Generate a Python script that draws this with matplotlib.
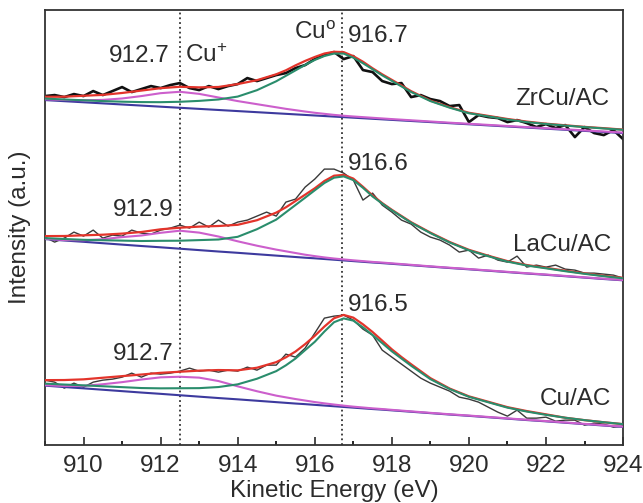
import matplotlib
matplotlib.use("Agg")
import matplotlib.pyplot as plt
from matplotlib.ticker import MultipleLocator

plt.rcParams["font.family"] = ["Liberation Sans", "DejaVu Sans"]
plt.rcParams["mathtext.default"] = "regular"

# energy grid of the fitted curves (finer around the Cu0 peak)
FIT_E = [909.0, 909.5, 910.0, 910.5, 911.0, 911.5, 912.0, 912.5, 913.0, 913.5,
         914.0, 914.5, 915.0, 915.25, 915.5, 915.75, 916.0, 916.25, 916.5, 916.75,
         917.0, 917.25, 917.5, 917.75, 918.0, 918.25, 918.5, 919.0, 919.5, 920.0,
         920.5, 921.0, 921.5, 922.0, 922.5, 923.0, 923.5, 924.0]

# energy grid of the measured spectra
DATA_E = [909.0, 909.25, 909.5, 909.75, 910.0, 910.25, 910.5, 910.75, 911.0, 911.25,
          911.5, 911.75, 912.0, 912.25, 912.5, 912.75, 913.0, 913.25, 913.5, 913.75,
          914.0, 914.25, 914.5, 914.75, 915.0, 915.25, 915.5, 915.75, 916.0, 916.25,
          916.5, 916.75, 917.0, 917.25, 917.5, 917.75, 918.0, 918.25, 918.5, 918.75,
          919.0, 919.25, 919.5, 919.75, 920.0, 920.25, 920.5, 920.75, 921.0, 921.25,
          921.5, 921.75, 922.0, 922.25, 922.5, 922.75, 923.0, 923.25, 923.5, 923.75,
          924.0]

# ---- ZrCu/AC (top) ----
top_base = [345.0, 343.9, 342.8, 341.7, 340.6, 339.5, 338.4, 337.3, 336.2, 335.1,
            334.0, 332.9, 331.8, 331.25, 330.7, 330.15, 329.6, 329.05, 328.5, 327.95,
            327.4, 326.85, 326.3, 325.75, 325.2, 324.65, 324.1, 323.0, 321.9, 320.8,
            319.7, 318.6, 317.5, 316.4, 315.3, 314.2, 313.1, 312.0]
top_cu1 = [0.8, 1.2, 2.0, 3.5, 6.0, 9.5, 13.5, 16.0, 15.0, 12.5,
           10.0, 8.0, 6.0, 5.0, 4.2, 3.4, 2.7, 2.2, 1.7, 1.4,
           1.2, 1.1, 1.0, 0.9, 0.8, 0.75, 0.7, 0.6, 0.5, 0.5,
           0.5, 0.5, 0.5, 0.5, 0.5, 0.5, 0.5, 0.5]
top_cu0 = [1.5, 1.7, 2.0, 2.3, 2.8, 3.5, 4.5, 6.0, 8.0, 10.5,
           14.5, 22.0, 32.0, 38.0, 44.0, 50.0, 55.5, 60.0, 63.0, 63.5,
           60.0, 55.0, 49.5, 44.0, 39.0, 34.0, 29.0, 21.0, 15.5, 11.0,
           9.0, 7.0, 5.5, 4.7, 4.2, 3.8, 3.5, 3.3]
top_fit = [3.3, 4.5, 6.5, 8.5, 11.5, 15.0, 18.5, 21.0, 21.5, 23.0,
           27.0, 32.0, 39.0, 43.5, 49.0, 54.0, 58.5, 62.5, 64.8, 65.0,
           61.5, 56.5, 50.5, 45.0, 40.0, 35.0, 29.8, 21.5, 16.0, 11.5,
           9.5, 7.5, 6.0, 5.0, 4.5, 4.0, 3.8, 3.5]
top_data = [349, 350, 348, 351, 349, 354, 350, 354, 358, 353,
            356, 359, 357, 360, 362, 357, 355, 359, 356, 359,
            361, 367, 364, 367, 370, 372, 377, 380, 386, 390,
            393, 386, 389, 375, 373, 364, 361, 362, 348, 350,
            346, 344, 339, 340, 323, 330, 328, 327, 323, 325,
            322, 318, 321, 317, 320, 308, 318, 312, 310, 315,
            306]

# ---- LaCu/AC (middle) ----
mid_base = [206.0, 204.6, 203.3, 201.9, 200.5, 199.1, 197.8, 196.4, 195.0, 193.6,
            192.3, 190.9, 189.5, 188.8, 188.1, 187.4, 186.8, 186.1, 185.4, 184.7,
            184.0, 183.3, 182.6, 182.0, 181.3, 180.6, 179.9, 178.5, 177.1, 175.8,
            174.4, 173.0, 171.6, 170.3, 168.9, 167.5, 166.1, 164.8]
mid_cu1 = [0.3, 0.5, 1.5, 4.0, 7.5, 10.5, 14.5, 18.0, 17.5, 15.0,
           11.5, 8.5, 6.0, 5.0, 4.0, 3.0, 2.2, 1.6, 1.2, 1.0,
           0.8, 0.7, 0.6, 0.55, 0.5, 0.45, 0.4, 0.3, 0.3, 0.3,
           0.3, 0.3, 0.3, 0.3, 0.3, 0.3, 0.3, 0.3]
mid_cu0 = [1.0, 1.5, 2.0, 3.0, 4.0, 5.0, 6.5, 8.0, 10.0, 12.0,
           16.0, 25.0, 36.0, 44.0, 52.0, 60.0, 68.0, 76.0, 82.0, 84.0,
           81.0, 74.0, 66.0, 59.5, 53.5, 48.0, 42.5, 33.5, 25.5, 19.0,
           14.5, 10.5, 8.0, 6.5, 5.0, 3.8, 2.8, 2.0]
mid_fit = [3.0, 4.5, 6.5, 8.5, 11.0, 14.0, 18.0, 21.0, 23.5, 25.5,
           28.0, 34.0, 43.0, 49.0, 56.0, 63.0, 70.0, 78.0, 84.0, 85.5,
           82.5, 75.0, 67.0, 60.0, 54.0, 48.5, 43.0, 34.0, 26.0, 19.5,
           15.0, 11.0, 8.5, 7.0, 5.5, 4.2, 3.2, 2.5]
mid_data = [208, 203, 207, 213, 209, 215, 207, 210, 209, 215,
            212, 211, 215, 217, 220, 217, 223, 218, 225, 219,
            223, 225, 229, 233, 229, 243, 246, 258, 266, 276,
            276, 272, 265, 245, 252, 240, 233, 225, 221, 213,
            208, 205, 200, 193, 195, 187, 190, 185, 183, 189,
            178, 180, 178, 180, 176, 175, 172, 172, 171, 170,
            167]

# ---- Cu/AC (bottom) ----
bot_base = [59.5, 58.1, 56.8, 55.4, 54.0, 52.6, 51.3, 49.9, 48.5, 47.1,
            45.8, 44.4, 43.0, 42.3, 41.6, 41.0, 40.3, 39.6, 38.9, 38.2,
            37.5, 36.8, 36.1, 35.5, 34.8, 34.1, 33.4, 32.0, 30.6, 29.3,
            27.9, 26.5, 25.1, 23.8, 22.4, 21.0, 19.6, 18.3]
bot_cu1 = [0.5, 1.0, 2.5, 5.5, 9.0, 13.0, 16.5, 18.5, 19.0, 17.0,
           13.0, 9.5, 6.5, 5.5, 4.5, 3.6, 2.8, 2.2, 1.7, 1.3,
           1.0, 0.85, 0.7, 0.6, 0.5, 0.45, 0.4, 0.3, 0.3, 0.3,
           0.3, 0.3, 0.3, 0.3, 0.3, 0.3, 0.3, 0.3]
bot_cu0 = [2.0, 2.5, 3.0, 3.5, 4.0, 4.5, 5.5, 7.0, 8.5, 11.0,
           15.0, 22.0, 31.0, 37.5, 45.0, 54.0, 63.0, 74.0, 84.0, 88.5,
           87.0, 81.0, 74.0, 66.5, 59.0, 52.5, 46.0, 34.0, 25.5, 19.0,
           15.0, 11.0, 8.5, 6.5, 5.0, 4.0, 3.3, 2.7]
bot_fit = [5.5, 7.0, 9.0, 12.0, 15.0, 18.0, 21.0, 23.5, 26.0, 28.0,
           29.0, 33.0, 40.0, 45.5, 52.0, 60.0, 69.0, 79.0, 88.0, 92.0,
           90.0, 84.0, 77.0, 69.0, 61.0, 54.0, 47.5, 35.0, 26.0, 19.5,
           15.5, 11.5, 9.0, 7.0, 5.0, 4.0, 3.3, 2.7]
bot_data = [65, 63, 57, 62, 58, 63, 65, 66, 68, 72,
            68, 72, 71, 72, 74, 77, 74, 75, 73, 75,
            74, 78, 75, 80, 80, 91, 88, 97, 112, 127,
            129, 130, 125, 116, 110, 95, 88, 81, 74, 67,
            62, 58, 54, 48, 46, 43, 38, 33, 29, 35,
            27, 27, 28, 24, 25, 25, 20, 22, 21, 18,
            19]

SAMPLES = ["ZrCu/AC", "LaCu/AC", "Cu/AC"]
CU1_POS = ["912.7", "912.9", "912.7"]
CU0_POS = ["916.7", "916.6", "916.5"]
REF_LINES = [912.5, 916.7]

RED = "#e3342b"
GREEN = "#2a8d6c"
MAGENTA = "#cc5fcc"
BLUE = "#3d3a9e"
TXT = "#2b2b2b"
FS = 17.5

spectra = [
    (top_base, top_cu1, top_cu0, top_fit, top_data),
    (mid_base, mid_cu1, mid_cu0, mid_fit, mid_data),
    (bot_base, bot_cu1, bot_cu0, bot_fit, bot_data),
]
# label anchors (energy, intensity) for: Cu+ value, Cu0 value, sample name
label_xy = [
    ((911.45, 389), (916.85, 409), (923.65, 346)),
    ((911.55, 235), (916.85, 281), (923.7, 200)),
    ((911.55, 91), (916.85, 140), (923.7, 46)),
]

fig = plt.figure(figsize=(6.43, 5.03), dpi=100)
ax = fig.add_axes([0.070, 0.115, 0.899, 0.865])

for i, (base, cu1, cu0, fit, data) in enumerate(spectra):
    top = i == 0
    ax.plot(DATA_E, data, color="#111111" if top else "#3a3a3a",
            lw=1.9 if top else 1.0, zorder=2)
    ax.plot(FIT_E, base, color=BLUE, lw=1.5, zorder=3)
    ax.plot(FIT_E, [b + v for b, v in zip(base, cu1)], color=MAGENTA, lw=1.5, zorder=4)
    ax.plot(FIT_E, [b + v for b, v in zip(base, fit)], color=RED, lw=1.6, zorder=5)
    ax.plot(FIT_E, [b + v for b, v in zip(base, cu0)], color=GREEN, lw=1.5, zorder=6)

    (x1, y1), (x0, y0), (xs, ys) = label_xy[i]
    ax.text(x1, y1, CU1_POS[i], ha="center", va="center", fontsize=FS, color=TXT)
    ax.text(x0, y0, CU0_POS[i], ha="left", va="center", fontsize=FS, color=TXT)
    ax.text(xs, ys, SAMPLES[i], ha="right", va="center", fontsize=FS, color=TXT)

ax.text(912.62, 390, "Cu$^{+}$", ha="left", va="center", fontsize=FS, color=TXT)
ax.text(916.55, 412, "Cu$^{o}$", ha="right", va="center", fontsize=FS, color=TXT)

for e in REF_LINES:
    ax.axvline(e, color="#333333", ls=":", lw=1.3, zorder=1)

ax.set_xlim(909, 924)
ax.set_ylim(0, 435)
ax.set_yticks([])
ax.xaxis.set_major_locator(MultipleLocator(2))
ax.xaxis.set_minor_locator(MultipleLocator(1))
ax.tick_params(axis="x", which="major", direction="in", length=6, width=1.2,
               labelsize=FS, pad=7, colors=TXT)
ax.tick_params(axis="x", which="minor", direction="in", length=3, width=1.2)
for sp in ax.spines.values():
    sp.set_color("#333333")
    sp.set_linewidth(1.3)

ax.set_xlabel("Kinetic Energy (eV)", fontsize=FS, color=TXT, labelpad=2)
ax.set_ylabel("Intensity (a.u.)", fontsize=FS, color=TXT, labelpad=10)

fig.savefig("out.png", dpi=100)
